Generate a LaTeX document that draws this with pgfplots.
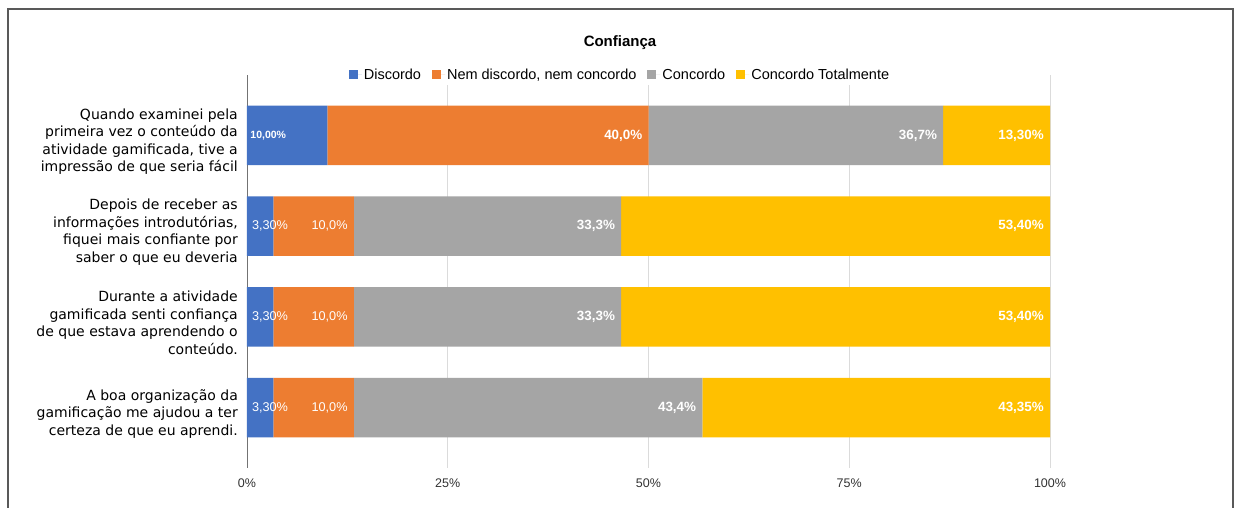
\documentclass[border=0pt]{standalone}
\usepackage{pgfplots}
\pgfplotsset{compat=1.18}
\usepackage{fontspec}
\setmainfont{Liberation Sans}
\newfontfamily\dejavu{DejaVu Sans}
\definecolor{cBlue}{HTML}{4472C4}
\definecolor{cOrange}{HTML}{ED7D31}
\definecolor{cGray}{HTML}{A5A5A5}
\definecolor{cYellow}{HTML}{FFC000}
\tikzset{
  lblB/.style={text=white, font=\bfseries\fontsize{13.4}{15}\selectfont, inner sep=0pt},
  lblR/.style={text=white, font=\fontsize{12.7}{15}\selectfont, inner sep=0pt},
  lblS/.style={text=white, font=\bfseries\fontsize{10.5}{12}\selectfont, inner sep=0pt},
}
\begin{document}
\begin{tikzpicture}
\path[use as bounding box] (0pt,0pt) rectangle (1235pt,508pt);
\fill[white] (0pt,0pt) rectangle (1235pt,508pt);
\begin{axis}[
  at={(247pt,40pt)}, anchor=south west,
  scale only axis, width=803pt, height=393pt,
  xbar stacked, bar width=0.655,
  xmin=0, xmax=100, ymin=-0.666, ymax=3.666,
  axis line style={draw=none},
  xtick={25,50,75,100}, xticklabels={25\%,50\%,75\%,100\%},
  extra x ticks={0}, extra x tick labels={0\%},
  extra x tick style={grid style={draw=black!55, line width=0.9pt}},
  xmajorgrids, grid style={draw=black!14, line width=0.8pt},
  major tick length=0pt,
  ytick={0,1,2,3},
  yticklabels={{A boa organização da\\gamificação me ajudou a ter\\certeza de que eu aprendi.},
               {Durante a atividade\\gamificada senti confiança\\de que estava aprendendo o\\conteúdo.},
               {Depois de receber as\\informações introdutórias,\\fiquei mais confiante por\\saber o que eu deveria},
               {Quando examinei pela\\primeira vez o conteúdo da\\atividade gamificada, tive a\\impressão de que seria fácil}},
  yticklabel style={align=right, inner sep=0pt, xshift=-9pt, yshift=-6pt, font=\dejavu\fontsize{14}{17.5}\selectfont},
  xticklabel style={font=\fontsize{12.5}{14}\selectfont, inner sep=0pt, yshift=-11pt, text=black!80},
  legend style={at={(0.4645,1.0)}, anchor=center, draw=none, fill=white, legend columns=-1,
     font=\fontsize{14.5}{16}\selectfont, /tikz/every even column/.append style={column sep=9pt}},
  legend image code/.code={\fill[#1] (0pt,-4.5pt) rectangle (9pt,4.5pt); \path (0pt,0pt) -- (13pt,0pt);},
]
\addplot[fill=cBlue, draw=none] coordinates {(3.3,0) (3.3,1) (3.3,2) (10,3)};
\addplot[fill=cOrange, draw=none] coordinates {(10,0) (10,1) (10,2) (40,3)};
\addplot[fill=cGray, draw=none] coordinates {(43.4,0) (33.3,1) (33.3,2) (36.7,3)};
\addplot[fill=cYellow, draw=none] coordinates {(43.35,0) (53.4,1) (53.4,2) (13.3,3)};
\legend{Discordo, {Nem discordo, nem concordo}, Concordo, Concordo Totalmente}
% label anchors
\coordinate (a1) at (axis cs:0.4,3);   \coordinate (b1) at (axis cs:49.25,3);
\coordinate (c1) at (axis cs:85.95,3); \coordinate (d1) at (axis cs:99.25,3);
\coordinate (a2) at (axis cs:0.6,2);   \coordinate (b2) at (axis cs:12.55,2);
\coordinate (c2) at (axis cs:45.85,2); \coordinate (d2) at (axis cs:99.25,2);
\coordinate (a3) at (axis cs:0.6,1);   \coordinate (b3) at (axis cs:12.55,1);
\coordinate (c3) at (axis cs:45.85,1); \coordinate (d3) at (axis cs:99.25,1);
\coordinate (a4) at (axis cs:0.6,0);   \coordinate (b4) at (axis cs:12.55,0);
\coordinate (c4) at (axis cs:55.95,0); \coordinate (d4) at (axis cs:99.25,0);
\end{axis}
% row 1
\node[lblS, anchor=west] at (a1) {10,00\%};
\node[lblB, anchor=east] at (b1) {40,0\%};
\node[lblB, anchor=east] at (c1) {36,7\%};
\node[lblB, anchor=east] at (d1) {13,30\%};
% row 2
\node[lblR, anchor=west] at (a2) {3,30\%};
\node[lblR, anchor=east] at (b2) {10,0\%};
\node[lblB, anchor=east] at (c2) {33,3\%};
\node[lblB, anchor=east] at (d2) {53,40\%};
% row 3
\node[lblR, anchor=west] at (a3) {3,30\%};
\node[lblR, anchor=east] at (b3) {10,0\%};
\node[lblB, anchor=east] at (c3) {33,3\%};
\node[lblB, anchor=east] at (d3) {53,40\%};
% row 4
\node[lblR, anchor=west] at (a4) {3,30\%};
\node[lblR, anchor=east] at (b4) {10,0\%};
\node[lblB, anchor=east] at (c4) {43,4\%};
\node[lblB, anchor=east] at (d4) {43,35\%};
\node[font=\bfseries\fontsize{15}{18}\selectfont] at (620pt,465pt) {Confiança};
\draw[black!65, line width=1.5pt] (8pt,-5pt) -- (8pt,499pt) -- (1233pt,499pt) -- (1233pt,-5pt);
\end{tikzpicture}
\end{document}
